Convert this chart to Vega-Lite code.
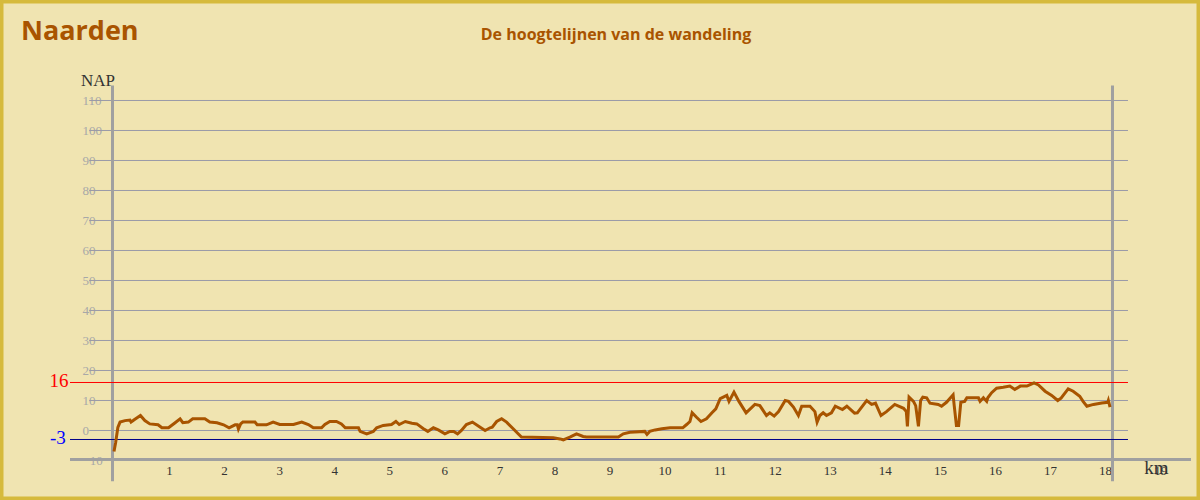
{
  "$schema": "https://vega.github.io/schema/vega-lite/v6.json",
  "width": 1200,
  "height": 500,
  "autosize": "none",
  "padding": 0,
  "background": "#F0E4B1",
  "title": {"text": "Naarden", "anchor": "start", "frame": "group", "orient": "top", "offset": 0, "dx": 21, "dy": 67, "baseline": "alphabetic", "font": "Open Sans", "fontSize": 27, "fontWeight": "bold", "color": "#A95400"},
  "config": {
    "view": {"stroke": "#D6BA3C", "strokeWidth": 7},
    "axis": {"grid": false, "domain": false, "ticks": false, "tickSize": 0, "labelOverlap": false, "labelFlush": false}
  },
  "datasets": {
    "one": [{}],
    "profile": [
      {"km": 0.00, "nap": -7}, {"km": 0.03, "nap": -4}, {"km": 0.07, "nap": 1}, {"km": 0.11, "nap": 2.8},
      {"km": 0.20, "nap": 3.3}, {"km": 0.29, "nap": 3.5}, {"km": 0.31, "nap": 2.8}, {"km": 0.36, "nap": 3.5},
      {"km": 0.48, "nap": 5}, {"km": 0.56, "nap": 3.3}, {"km": 0.65, "nap": 2.2}, {"km": 0.80, "nap": 1.9},
      {"km": 0.87, "nap": 0.9}, {"km": 0.99, "nap": 0.9}, {"km": 1.11, "nap": 2.6}, {"km": 1.20, "nap": 3.9},
      {"km": 1.25, "nap": 2.6}, {"km": 1.35, "nap": 2.8}, {"km": 1.43, "nap": 3.9}, {"km": 1.65, "nap": 3.9},
      {"km": 1.74, "nap": 2.8}, {"km": 1.87, "nap": 2.6}, {"km": 1.99, "nap": 1.9}, {"km": 2.09, "nap": 0.9},
      {"km": 2.20, "nap": 1.9}, {"km": 2.24, "nap": 1.9}, {"km": 2.26, "nap": 0.5}, {"km": 2.30, "nap": 2.2},
      {"km": 2.34, "nap": 2.8}, {"km": 2.56, "nap": 2.8}, {"km": 2.60, "nap": 1.9}, {"km": 2.77, "nap": 1.9},
      {"km": 2.89, "nap": 2.8}, {"km": 3.01, "nap": 2.0}, {"km": 3.26, "nap": 2.0}, {"km": 3.41, "nap": 2.8},
      {"km": 3.53, "nap": 2.0}, {"km": 3.62, "nap": 0.9}, {"km": 3.77, "nap": 0.9}, {"km": 3.83, "nap": 2.0},
      {"km": 3.92, "nap": 3.0}, {"km": 4.04, "nap": 3.0}, {"km": 4.13, "nap": 2.2}, {"km": 4.20, "nap": 0.9},
      {"km": 4.44, "nap": 0.9}, {"km": 4.47, "nap": -0.3}, {"km": 4.59, "nap": -1.1}, {"km": 4.71, "nap": -0.3},
      {"km": 4.77, "nap": 0.9}, {"km": 4.89, "nap": 1.7}, {"km": 5.04, "nap": 2.0}, {"km": 5.12, "nap": 3.0},
      {"km": 5.18, "nap": 2.0}, {"km": 5.29, "nap": 3.0}, {"km": 5.41, "nap": 2.4}, {"km": 5.50, "nap": 2.2},
      {"km": 5.62, "nap": 0.6}, {"km": 5.70, "nap": -0.3}, {"km": 5.80, "nap": 0.9}, {"km": 5.89, "nap": 0.2},
      {"km": 6.01, "nap": -1.1}, {"km": 6.10, "nap": -0.3}, {"km": 6.17, "nap": -0.3}, {"km": 6.24, "nap": -1.1},
      {"km": 6.31, "nap": 0}, {"km": 6.40, "nap": 2.0}, {"km": 6.51, "nap": 2.8}, {"km": 6.65, "nap": 1.1},
      {"km": 6.74, "nap": 0}, {"km": 6.83, "nap": 0.9}, {"km": 6.87, "nap": 1.1}, {"km": 6.95, "nap": 3.0},
      {"km": 7.04, "nap": 3.9}, {"km": 7.13, "nap": 2.8}, {"km": 7.25, "nap": 0.6}, {"km": 7.34, "nap": -1.1},
      {"km": 7.40, "nap": -2.2}, {"km": 7.98, "nap": -2.4}, {"km": 8.10, "nap": -2.8}, {"km": 8.16, "nap": -3.1},
      {"km": 8.28, "nap": -2.2}, {"km": 8.40, "nap": -1.1}, {"km": 8.52, "nap": -2.0}, {"km": 8.58, "nap": -2.2},
      {"km": 9.16, "nap": -2.2}, {"km": 9.25, "nap": -1.1}, {"km": 9.37, "nap": -0.6}, {"km": 9.64, "nap": -0.3},
      {"km": 9.68, "nap": -1.3}, {"km": 9.73, "nap": -0.3}, {"km": 9.83, "nap": 0.2}, {"km": 9.95, "nap": 0.6},
      {"km": 10.10, "nap": 0.9}, {"km": 10.33, "nap": 0.9}, {"km": 10.40, "nap": 2.0}, {"km": 10.46, "nap": 3.0},
      {"km": 10.50, "nap": 5.9}, {"km": 10.58, "nap": 4.4}, {"km": 10.66, "nap": 3.0}, {"km": 10.76, "nap": 3.9},
      {"km": 10.86, "nap": 5.9}, {"km": 10.93, "nap": 7.2}, {"km": 11.01, "nap": 10.6}, {"km": 11.13, "nap": 11.7},
      {"km": 11.17, "nap": 9.7}, {"km": 11.26, "nap": 12.8}, {"km": 11.35, "nap": 9.7}, {"km": 11.48, "nap": 5.9},
      {"km": 11.64, "nap": 8.7}, {"km": 11.73, "nap": 8.3}, {"km": 11.85, "nap": 5.0}, {"km": 11.91, "nap": 5.9},
      {"km": 11.99, "nap": 4.8}, {"km": 12.07, "nap": 6.3}, {"km": 12.19, "nap": 10.0}, {"km": 12.25, "nap": 9.7},
      {"km": 12.34, "nap": 7.8}, {"km": 12.43, "nap": 5.0}, {"km": 12.49, "nap": 8.1}, {"km": 12.64, "nap": 8.1},
      {"km": 12.73, "nap": 6.3}, {"km": 12.77, "nap": 2.8}, {"km": 12.82, "nap": 5.0}, {"km": 12.88, "nap": 5.9},
      {"km": 12.94, "nap": 5.0}, {"km": 13.03, "nap": 5.9}, {"km": 13.10, "nap": 8.1}, {"km": 13.23, "nap": 7.0},
      {"km": 13.31, "nap": 8.1}, {"km": 13.45, "nap": 5.8}, {"km": 13.50, "nap": 5.9}, {"km": 13.67, "nap": 10.0},
      {"km": 13.76, "nap": 8.7}, {"km": 13.83, "nap": 9.1}, {"km": 13.93, "nap": 5.0}, {"km": 14.03, "nap": 6.3},
      {"km": 14.18, "nap": 8.7}, {"km": 14.34, "nap": 7.4}, {"km": 14.39, "nap": 6.3}, {"km": 14.41, "nap": 1.4},
      {"km": 14.44, "nap": 11.1}, {"km": 14.52, "nap": 9.7}, {"km": 14.56, "nap": 8.3}, {"km": 14.61, "nap": 1.4},
      {"km": 14.65, "nap": 10.0}, {"km": 14.69, "nap": 11.1}, {"km": 14.76, "nap": 10.9}, {"km": 14.82, "nap": 9.1},
      {"km": 14.97, "nap": 8.7}, {"km": 15.03, "nap": 8.1}, {"km": 15.12, "nap": 9.4}, {"km": 15.24, "nap": 11.9},
      {"km": 15.26, "nap": 8.3}, {"km": 15.30, "nap": 1.7}, {"km": 15.34, "nap": 1.7}, {"km": 15.38, "nap": 9.4},
      {"km": 15.45, "nap": 9.7}, {"km": 15.49, "nap": 10.9}, {"km": 15.70, "nap": 10.9}, {"km": 15.73, "nap": 9.7},
      {"km": 15.79, "nap": 10.9}, {"km": 15.85, "nap": 9.7}, {"km": 15.87, "nap": 10.9}, {"km": 15.94, "nap": 12.6},
      {"km": 16.03, "nap": 14.1}, {"km": 16.15, "nap": 14.4}, {"km": 16.27, "nap": 14.8}, {"km": 16.36, "nap": 13.7},
      {"km": 16.46, "nap": 14.8}, {"km": 16.58, "nap": 14.8}, {"km": 16.64, "nap": 15.3}, {"km": 16.71, "nap": 15.9},
      {"km": 16.79, "nap": 15.2}, {"km": 16.91, "nap": 13.1}, {"km": 17.03, "nap": 11.7}, {"km": 17.14, "nap": 10.0},
      {"km": 17.20, "nap": 10.8}, {"km": 17.33, "nap": 13.9}, {"km": 17.42, "nap": 13.1}, {"km": 17.54, "nap": 11.4},
      {"km": 17.60, "nap": 9.7}, {"km": 17.67, "nap": 8.1}, {"km": 17.79, "nap": 8.7}, {"km": 17.94, "nap": 9.2},
      {"km": 18.05, "nap": 9.4}, {"km": 18.06, "nap": 10.0}, {"km": 18.09, "nap": 7.8}
    ],
    "grid": [
      {"nap": -10}, {"nap": 0}, {"nap": 10}, {"nap": 20}, {"nap": 30}, {"nap": 40}, {"nap": 50},
      {"nap": 60}, {"nap": 70}, {"nap": 80}, {"nap": 90}, {"nap": 100}, {"nap": 110}
    ]
  },
  "layer": [
    {
      "data": {"name": "grid"},
      "mark": {"type": "rule", "color": "#9A9AA8", "strokeWidth": 1},
      "encoding": {
        "y": {"field": "nap", "type": "quantitative",
          "scale": {"domain": [-23.1667, 143.5], "nice": false, "zero": false},
          "axis": {"orient": "left", "offset": -82, "values": [-10, 0, 10, 20, 30, 40, 50, 60, 70, 80, 90, 100, 110],
            "labelAlign": "left", "labelBaseline": "middle", "labelPadding": 0, "labelFont": "Liberation Serif", "labelFontSize": 13, "labelColor": "#A8A8A8",
            "title": "NAP", "titleX": 15.5, "titleY": 85, "titleAngle": 0, "titleAlign": "center", "titleBaseline": "alphabetic",
            "titleFont": "Liberation Serif", "titleFontSize": 17, "titleFontWeight": "normal", "titleColor": "#333333"}},
        "x": {"datum": -0.45, "type": "quantitative",
          "scale": {"domain": [-2.0705, 19.724], "nice": false, "zero": false},
          "axis": {"orient": "bottom", "offset": -40, "values": [1, 2, 3, 4, 5, 6, 7, 8, 9, 10, 11, 12, 13, 14, 15, 16, 17, 18, 19], "format": "d",
            "labelFont": "Liberation Serif", "labelFontSize": 13, "labelColor": "#333333", "labelPadding": 4,
            "title": "km", "titleX": 1156, "titleY": 13, "titleAlign": "center", "titleBaseline": "alphabetic",
            "titleFont": "Liberation Serif", "titleFontSize": 19, "titleFontWeight": "normal", "titleColor": "#333333"}},
        "x2": {"datum": 18.416}
      }
    },
    {
      "data": {"name": "one"},
      "mark": {"type": "rule", "color": "#A0A0A0", "strokeWidth": 3},
      "encoding": {"y": {"datum": -9.667, "type": "quantitative"}, "x": {"datum": -0.799, "type": "quantitative"}, "x2": {"datum": 19.56}}
    },
    {
      "data": {"name": "one"},
      "mark": {"type": "rule", "color": "#A0A0A0", "strokeWidth": 3},
      "encoding": {"x": {"datum": -0.0272, "type": "quantitative"}, "y": {"datum": 115, "type": "quantitative"}, "y2": {"datum": -16.9}}
    },
    {
      "data": {"name": "one"},
      "mark": {"type": "rule", "color": "#A0A0A0", "strokeWidth": 3},
      "encoding": {"x": {"datum": 18.1347, "type": "quantitative"}, "y": {"datum": 115, "type": "quantitative"}, "y2": {"datum": -16.9}}
    },
    {
      "data": {"name": "one"},
      "mark": {"type": "rule", "color": "#FF0000", "strokeWidth": 1},
      "encoding": {"y": {"datum": 16, "type": "quantitative"}, "x": {"datum": -0.799, "type": "quantitative"}, "x2": {"datum": 18.416}}
    },
    {
      "data": {"name": "one"},
      "mark": {"type": "rule", "color": "#000088", "strokeWidth": 1},
      "encoding": {"y": {"datum": -3, "type": "quantitative"}, "x": {"datum": -0.799, "type": "quantitative"}, "x2": {"datum": 18.416}}
    },
    {
      "data": {"name": "one"},
      "mark": {"type": "text", "color": "#FF0000", "font": "Liberation Serif", "fontSize": 19, "align": "center", "baseline": "middle", "dy": -1},
      "encoding": {"x": {"datum": -1.0, "type": "quantitative"}, "y": {"datum": 16, "type": "quantitative"}, "text": {"value": "16"}}
    },
    {
      "data": {"name": "one"},
      "mark": {"type": "text", "color": "#0000FF", "font": "Liberation Serif", "fontSize": 19, "align": "center", "baseline": "middle", "dy": -1.5},
      "encoding": {"x": {"datum": -1.02, "type": "quantitative"}, "y": {"datum": -3, "type": "quantitative"}, "text": {"value": "-3"}}
    },
    {
      "data": {"name": "one"},
      "mark": {"type": "text", "color": "#A95400", "font": "Open Sans", "fontSize": 16, "fontWeight": "bold", "align": "center", "baseline": "alphabetic"},
      "encoding": {"x": {"datum": 9.117, "type": "quantitative"}, "y": {"datum": 130.2, "type": "quantitative"}, "text": {"value": "De hoogtelijnen van de wandeling"}}
    },
    {
      "data": {"name": "profile"},
      "mark": {"type": "line", "color": "#A85400", "strokeWidth": 3, "strokeJoin": "miter"},
      "encoding": {
        "x": {"field": "km", "type": "quantitative"},
        "y": {"field": "nap", "type": "quantitative"}
      }
    }
  ]
}
